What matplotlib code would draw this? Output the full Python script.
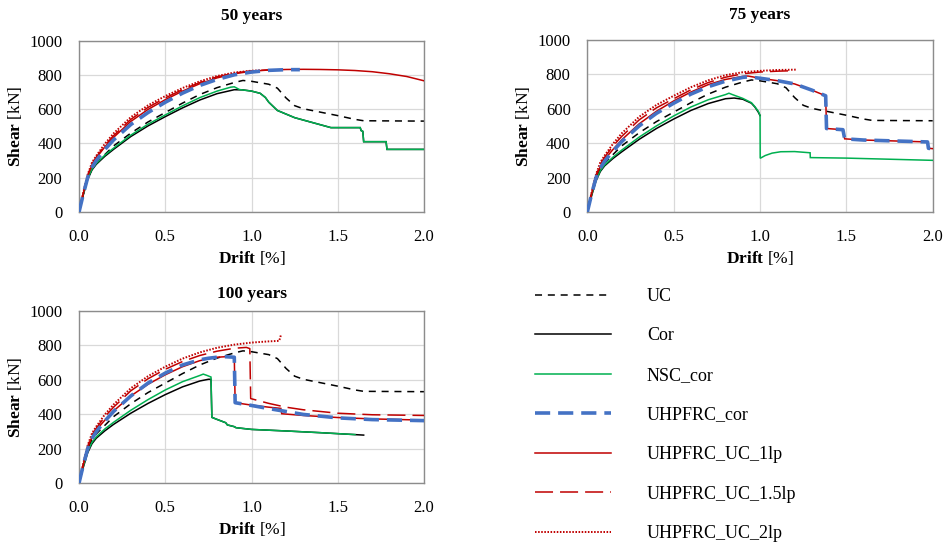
import matplotlib

matplotlib.use("Agg")
import matplotlib.pyplot as plt  # noqa: E402
from matplotlib.lines import Line2D  # noqa: E402

plt.rcParams["font.family"] = ["Liberation Serif", "DejaVu Serif"]
plt.rcParams["mathtext.fontset"] = "custom"
plt.rcParams["mathtext.rm"] = "Liberation Serif"
plt.rcParams["mathtext.bf"] = "Liberation Serif:bold"

# ---- data (drift in %, shear in kN) ----
UC_DRIFT = [0, 0.025, 0.05, 0.075, 0.1, 0.15, 0.2, 0.3, 0.4, 0.5, 0.6, 0.7, 0.8, 0.9, 0.95,
            1.0, 1.1, 1.15, 1.2, 1.25, 1.3, 1.4, 1.5, 1.6, 1.65, 2.0]
UC_SHEAR = [0, 105, 195, 252, 285, 335, 385, 460, 525, 580, 635, 685, 725, 755, 767,
            762, 745, 722, 665, 620, 602, 582, 562, 540, 532, 530]

# 50 years
COR50_DRIFT = [0, 0.025, 0.05, 0.075, 0.1, 0.15, 0.2, 0.3, 0.4, 0.5, 0.6, 0.7, 0.8, 0.9, 0.95,
               1.0, 1.05, 1.08, 1.1, 1.15, 1.25, 1.46, 1.63, 1.635, 1.645, 1.65, 1.78, 1.785, 2.0]
COR50_SHEAR = [0, 100, 190, 245, 278, 325, 365, 440, 502, 556, 607, 653, 690, 713, 712,
               705, 692, 668, 640, 592, 550, 492, 492, 475, 470, 410, 410, 365, 365]
NSC50_DRIFT = [0, 0.025, 0.05, 0.075, 0.1, 0.15, 0.2, 0.3, 0.4, 0.5, 0.6, 0.7, 0.8, 0.88, 0.9, 0.93,
               1.0, 1.05, 1.08, 1.1, 1.15, 1.25, 1.46, 1.63, 1.635, 1.645, 1.65, 1.78, 1.785, 2.0]
NSC50_SHEAR = [0, 105, 195, 250, 283, 332, 372, 448, 512, 566, 619, 667, 705, 728, 730, 714,
               705, 692, 668, 640, 592, 550, 492, 492, 475, 470, 410, 410, 365, 365]
UHPCOR50_DRIFT = [0, 0.025, 0.05, 0.075, 0.1, 0.15, 0.2, 0.3, 0.4, 0.5, 0.6, 0.7, 0.8, 0.9,
                  1.0, 1.1, 1.2, 1.28]
UHPCOR50_SHEAR = [0, 105, 200, 260, 300, 365, 420, 510, 580, 640, 693, 738, 773, 800,
                  816, 826, 830, 830]
UC1LP50_DRIFT = [0, 0.025, 0.05, 0.075, 0.1, 0.15, 0.2, 0.3, 0.4, 0.5, 0.6, 0.7, 0.8, 0.9,
                 1.0, 1.1, 1.2, 1.3, 1.4, 1.5, 1.6, 1.7, 1.8, 1.9, 2.0]
UC1LP50_SHEAR = [0, 110, 210, 275, 315, 380, 435, 528, 598, 655, 705, 748, 782, 806,
                 821, 828, 831, 832, 831, 829, 825, 818, 806, 790, 765]
UC15LP50_DRIFT = [0, 0.025, 0.05, 0.075, 0.1, 0.15, 0.2, 0.3, 0.4, 0.5, 0.6, 0.7, 0.8, 0.9, 1.0, 1.1]
UC15LP50_SHEAR = [0, 112, 213, 280, 320, 388, 445, 540, 610, 665, 714, 755, 788, 810, 823, 829]
UC2LP50_DRIFT = [0, 0.025, 0.05, 0.075, 0.1, 0.15, 0.2, 0.3, 0.4, 0.5, 0.6, 0.7, 0.8, 0.9, 1.0, 1.05]
UC2LP50_SHEAR = [0, 115, 218, 288, 328, 398, 458, 553, 622, 676, 723, 762, 793, 813, 824, 826]

# 75 years
COR75_DRIFT = [0, 0.025, 0.05, 0.075, 0.1, 0.15, 0.2, 0.3, 0.4, 0.5, 0.6, 0.7, 0.8, 0.85, 0.9,
               0.95, 0.97, 0.99, 1.0]
COR75_SHEAR = [0, 95, 180, 235, 268, 312, 350, 422, 485, 540, 590, 630, 658, 662, 655,
               632, 610, 580, 560]
NSC75_DRIFT = [0, 0.025, 0.05, 0.075, 0.1, 0.15, 0.2, 0.3, 0.4, 0.5, 0.6, 0.7, 0.8, 0.82, 0.84,
               0.9, 0.95, 0.97, 0.99, 1.0, 1.001, 1.03, 1.07, 1.12, 1.2, 1.29, 1.291, 1.5, 2.0]
NSC75_SHEAR = [0, 100, 185, 240, 273, 320, 360, 435, 500, 558, 610, 652, 682, 690, 682,
               660, 635, 612, 585, 562, 312, 328, 342, 350, 351, 344, 316, 313, 300]
UHPCOR75_DRIFT = [0, 0.025, 0.05, 0.075, 0.1, 0.15, 0.2, 0.3, 0.4, 0.5, 0.6, 0.7, 0.8, 0.9, 0.93,
                  1.0, 1.1, 1.2, 1.3, 1.38, 1.385, 1.48, 1.49, 1.6, 1.8, 1.97, 1.975, 2.0]
UHPCOR75_SHEAR = [0, 105, 198, 255, 295, 355, 410, 500, 573, 632, 685, 728, 760, 782, 785,
                  777, 763, 744, 708, 675, 485, 478, 425, 418, 412, 407, 370, 368]
UC1LP75_DRIFT = [0, 0.025, 0.05, 0.075, 0.1, 0.15, 0.2, 0.3, 0.4, 0.5, 0.6, 0.7, 0.8, 0.9, 0.93,
                 1.0, 1.1, 1.2, 1.3, 1.38, 1.385, 1.48, 1.49, 1.6, 1.8, 1.97, 1.975, 2.0]
UC1LP75_SHEAR = [0, 108, 205, 265, 305, 365, 420, 512, 585, 645, 697, 740, 770, 788, 790,
                 777, 763, 744, 708, 675, 485, 478, 425, 418, 412, 407, 370, 368]
UC15LP75_DRIFT = [0, 0.025, 0.05, 0.075, 0.1, 0.15, 0.2, 0.3, 0.4, 0.5, 0.6, 0.7, 0.8, 0.9, 1.0, 1.1, 1.2]
UC15LP75_SHEAR = [0, 112, 212, 278, 318, 385, 440, 535, 605, 658, 710, 752, 783, 803, 813, 818, 821]
UC2LP75_DRIFT = [0, 0.025, 0.05, 0.075, 0.1, 0.15, 0.2, 0.3, 0.4, 0.5, 0.6, 0.7, 0.8, 0.9, 1.0, 1.1, 1.21]
UC2LP75_SHEAR = [0, 115, 218, 288, 328, 398, 458, 553, 622, 675, 725, 765, 795, 812, 820, 825, 827]

# 100 years
COR100_DRIFT = [0, 0.025, 0.05, 0.075, 0.1, 0.15, 0.2, 0.3, 0.4, 0.5, 0.6, 0.7, 0.75, 0.765,
                0.77, 0.8, 0.85, 0.86, 0.9, 0.91, 1.0, 1.2, 1.4, 1.65]
COR100_SHEAR = [0, 92, 175, 228, 260, 303, 340, 405, 462, 513, 558, 592, 602, 602,
                381, 369, 350, 337, 327, 321, 311, 302, 292, 278]
NSC100_DRIFT = [0, 0.025, 0.05, 0.075, 0.1, 0.15, 0.2, 0.3, 0.4, 0.5, 0.6, 0.7, 0.72, 0.74, 0.765,
                0.77, 0.8, 0.85, 0.86, 0.9, 0.91, 1.0, 1.2, 1.4, 1.6]
NSC100_SHEAR = [0, 97, 182, 236, 268, 314, 352, 422, 484, 540, 588, 624, 632, 625, 615,
                381, 369, 350, 337, 327, 321, 311, 302, 292, 281]
UHPCOR100_DRIFT = [0, 0.025, 0.05, 0.075, 0.1, 0.15, 0.2, 0.3, 0.4, 0.5, 0.6, 0.7, 0.75, 0.8, 0.85,
                   0.9, 0.905, 1.0, 1.1, 1.2, 1.3, 1.5, 1.7, 2.0]
UHPCOR100_SHEAR = [0, 105, 198, 258, 298, 360, 415, 505, 580, 638, 685, 715, 724, 730, 733,
                   730, 466, 450, 432, 415, 398, 378, 368, 362]
UC1LP100_DRIFT = [0, 0.025, 0.05, 0.075, 0.1, 0.15, 0.2, 0.3, 0.4, 0.5, 0.6, 0.7, 0.75, 0.8, 0.85,
                  0.9, 0.905, 1.0, 1.1, 1.17, 1.175, 1.3, 1.5, 1.7, 2.0]
UC1LP100_SHEAR = [0, 108, 205, 268, 308, 365, 418, 505, 573, 628, 675, 710, 722, 730, 733,
                  730, 466, 452, 440, 433, 402, 392, 380, 372, 365]
UC15LP100_DRIFT = [0, 0.025, 0.05, 0.075, 0.1, 0.15, 0.2, 0.3, 0.4, 0.5, 0.6, 0.7, 0.8, 0.9, 0.97,
                   0.99, 0.995, 1.1, 1.2, 1.3, 1.5, 1.7, 2.0]
UC15LP100_SHEAR = [0, 112, 212, 278, 318, 385, 440, 535, 605, 660, 705, 740, 765, 782, 787,
                   780, 490, 462, 440, 425, 405, 396, 392]
UC2LP100_DRIFT = [0, 0.025, 0.05, 0.075, 0.1, 0.15, 0.2, 0.3, 0.4, 0.5, 0.6, 0.7, 0.8, 0.9, 1.0,
                  1.1, 1.16, 1.165, 1.17]
UC2LP100_SHEAR = [0, 115, 218, 288, 328, 398, 455, 550, 620, 675, 722, 758, 785, 803, 815,
                  822, 825, 840, 858]

TITLES = ["50 years", "75 years", "100 years"]
TITLE_PADS = [15, 15, 9]
LABELS = ["UC", "Cor", "NSC_cor", "UHPFRC_cor", "UHPFRC_UC_1lp", "UHPFRC_UC_1.5lp", "UHPFRC_UC_2lp"]
X_TICKS = [0.0, 0.5, 1.0, 1.5, 2.0]
Y_TICKS = [0, 200, 400, 600, 800, 1000]

# ---- styles ----
BLACK = "#000000"
GREEN = "#00b050"
BLUE = "#4472c4"
RED = "#c00000"
STYLES = [
    dict(color=BLACK, lw=1.1, dashes=(4.6, 3.8)),
    dict(color=BLACK, lw=1.1, ls="-"),
    dict(color=GREEN, lw=1.1, ls="-"),
    dict(color=BLUE, lw=2.6, dashes=(4.2, 2.2)),
    dict(color=RED, lw=1.1, ls="-"),
    dict(color=RED, lw=1.1, dashes=(11.8, 4.6)),
    dict(color=RED, lw=1.4, dashes=(0.8, 0.8)),
]
ZORDERS = [2, 2, 3, 5, 4, 4, 4]

panels = [
    [(UC_DRIFT, UC_SHEAR), (COR50_DRIFT, COR50_SHEAR), (NSC50_DRIFT, NSC50_SHEAR),
     (UHPCOR50_DRIFT, UHPCOR50_SHEAR), (UC1LP50_DRIFT, UC1LP50_SHEAR),
     (UC15LP50_DRIFT, UC15LP50_SHEAR), (UC2LP50_DRIFT, UC2LP50_SHEAR)],
    [(UC_DRIFT, UC_SHEAR), (COR75_DRIFT, COR75_SHEAR), (NSC75_DRIFT, NSC75_SHEAR),
     (UHPCOR75_DRIFT, UHPCOR75_SHEAR), (UC1LP75_DRIFT, UC1LP75_SHEAR),
     (UC15LP75_DRIFT, UC15LP75_SHEAR), (UC2LP75_DRIFT, UC2LP75_SHEAR)],
    [(UC_DRIFT, UC_SHEAR), (COR100_DRIFT, COR100_SHEAR), (NSC100_DRIFT, NSC100_SHEAR),
     (UHPCOR100_DRIFT, UHPCOR100_SHEAR), (UC1LP100_DRIFT, UC1LP100_SHEAR),
     (UC15LP100_DRIFT, UC15LP100_SHEAR), (UC2LP100_DRIFT, UC2LP100_SHEAR)],
]

fig = plt.figure(figsize=(9.51, 5.43), dpi=100)
boxes = [
    [0.0831, 0.6096, 0.3628, 0.3158],
    [0.6176, 0.6096, 0.3632, 0.3170],
    [0.0831, 0.1105, 0.3628, 0.3173],
]

FS = 12
for box, title, tpad, series in zip(boxes, TITLES, TITLE_PADS, panels):
    ax = fig.add_axes(box)
    for (x, y), st, z in zip(series, STYLES, ZORDERS):
        ax.plot(x, y, zorder=z, solid_joinstyle="miter", **st)
    ax.set_xlim(0, 2.0)
    ax.set_ylim(0, 1000)
    ax.set_xticks(X_TICKS)
    ax.set_xticklabels([f"{t:.1f}" for t in X_TICKS])
    ax.set_yticks(Y_TICKS)
    ax.grid(True, color="#d9d9d9", lw=0.9, zorder=0)
    ax.set_axisbelow(True)
    for sp in ax.spines.values():
        sp.set_color("#8c8c8c")
        sp.set_linewidth(1.0)
    ax.tick_params(length=0, labelsize=FS)
    ax.tick_params(axis="x", pad=12)
    ax.tick_params(axis="y", pad=12)
    ax.set_title(title, fontsize=12.5, fontweight="bold", pad=tpad)
    ax.set_xlabel(r"$\mathbf{Drift}$ [%]", fontsize=12.5, labelpad=3)
    ax.set_ylabel(r"$\mathbf{Shear}$ [kN]", fontsize=12.5, labelpad=4)

handles = []
for st in STYLES:
    handles.append(Line2D([], [], **st))
fig.legend(handles, LABELS, loc="upper left", bbox_to_anchor=(0.553, 0.4865),
           frameon=False, fontsize=13, handlelength=4.2, handletextpad=2.0,
           labelspacing=1.25, borderpad=0)

fig.savefig("out.png", dpi=100)
